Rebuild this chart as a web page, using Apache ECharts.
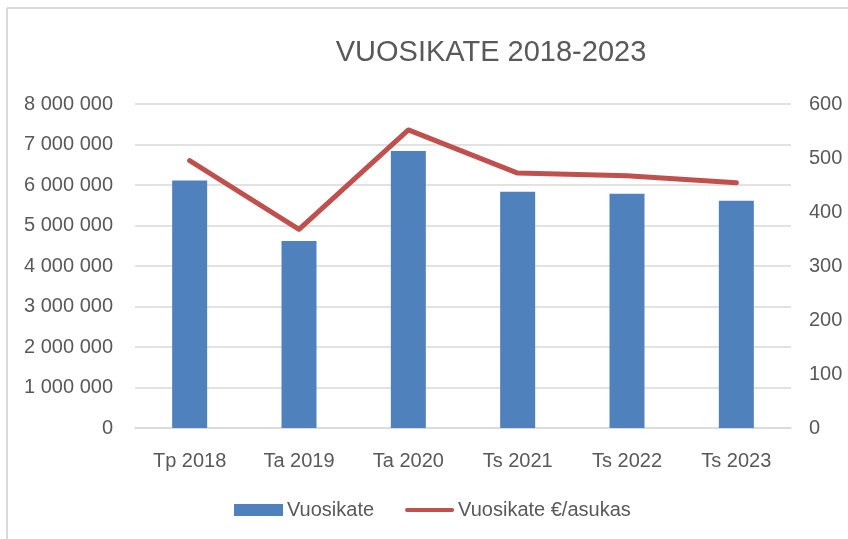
<!DOCTYPE html>
<html><head><meta charset="utf-8">
<script src="https://cdn.jsdelivr.net/npm/echarts@6/dist/echarts.min.js"></script>
<style>html,body{margin:0;padding:0;background:#fff}#c{width:848px;height:539px}</style>
</head><body><div id="c"></div>
<script>
var categories = ['Tp 2018','Ta 2019','Ta 2020','Ts 2021','Ts 2022','Ts 2023'];
var vuosikate = [6110000, 4615000, 6840000, 5835000, 5785000, 5610000];
var perAsukas = [495, 368, 552, 472, 467, 454];
var leftTicks = {min: 0, max: 8000000, interval: 1000000};
var rightTicks = {min: 0, max: 600, interval: 100};

var FONT = 'Liberation Sans';
var TXT = '#595959';
var chart = echarts.init(document.getElementById('c'), null, {renderer: 'canvas'});
chart.setOption({
  backgroundColor: '#fff',
  animation: false,
  title: {text: 'VUOSIKATE 2018-2023', left: 486, top: 33, textAlign: 'center',
    textStyle: {fontFamily: FONT, fontSize: 29, fontWeight: 'normal', color: TXT}},
  grid: {left: 135, right: 57, top: 104, bottom: 111, containLabel: false},
  legend: {left: 234, top: 500, padding: 0, itemGap: 31, itemWidth: 49, itemHeight: 12,
    textStyle: {fontFamily: FONT, fontSize: 20, color: TXT, padding: [0, 0, 0, -1]},
    data: [
      {name: 'Vuosikate', icon: 'rect'},
      {name: 'Vuosikate €/asukas', icon: 'path://M2,0 L50,0 A2,2 0 0 1 50,4 L2,4 A2,2 0 0 1 2,0 Z', itemStyle: {color: '#C0504D'}}
    ]},
  xAxis: {type: 'category', data: categories,
    axisLine: {lineStyle: {color: '#d9d9d9', width: 1.5}}, axisTick: {show: false},
    axisLabel: {fontFamily: FONT, fontSize: 20, color: TXT, margin: 23}},
  yAxis: [
    {type: 'value', min: leftTicks.min, max: leftTicks.max, interval: leftTicks.interval,
      axisLabel: {fontFamily: FONT, fontSize: 20, color: TXT, margin: 22,
        formatter: function (v) { return String(v).replace(/\B(?=(\d{3})+(?!\d))/g, ' '); }},
      axisLine: {show: false}, axisTick: {show: false},
      splitLine: {lineStyle: {color: '#d9d9d9', width: 1.5}}},
    {type: 'value', min: rightTicks.min, max: rightTicks.max, interval: rightTicks.interval,
      position: 'right',
      axisLabel: {fontFamily: FONT, fontSize: 20, color: TXT, margin: 18},
      axisLine: {show: false}, axisTick: {show: false}, splitLine: {show: false}}
  ],
  series: [
    {name: 'Vuosikate', type: 'bar', data: vuosikate, barWidth: 35,
      itemStyle: {color: '#4F81BD'}},
    {name: 'Vuosikate €/asukas', type: 'line', yAxisIndex: 1, data: perAsukas,
      symbol: 'none', lineStyle: {color: '#C0504D', width: 5, cap: 'round', join: 'round'},
      itemStyle: {color: '#C0504D'}}
  ],
  graphic: [
    {type: 'line', shape: {x1: 7, y1: 8, x2: 848, y2: 8}, style: {stroke: '#d9d9d9', lineWidth: 2}},
    {type: 'line', shape: {x1: 7, y1: 8, x2: 7, y2: 539}, style: {stroke: '#d9d9d9', lineWidth: 2}}
  ]
});
</script></body></html>
